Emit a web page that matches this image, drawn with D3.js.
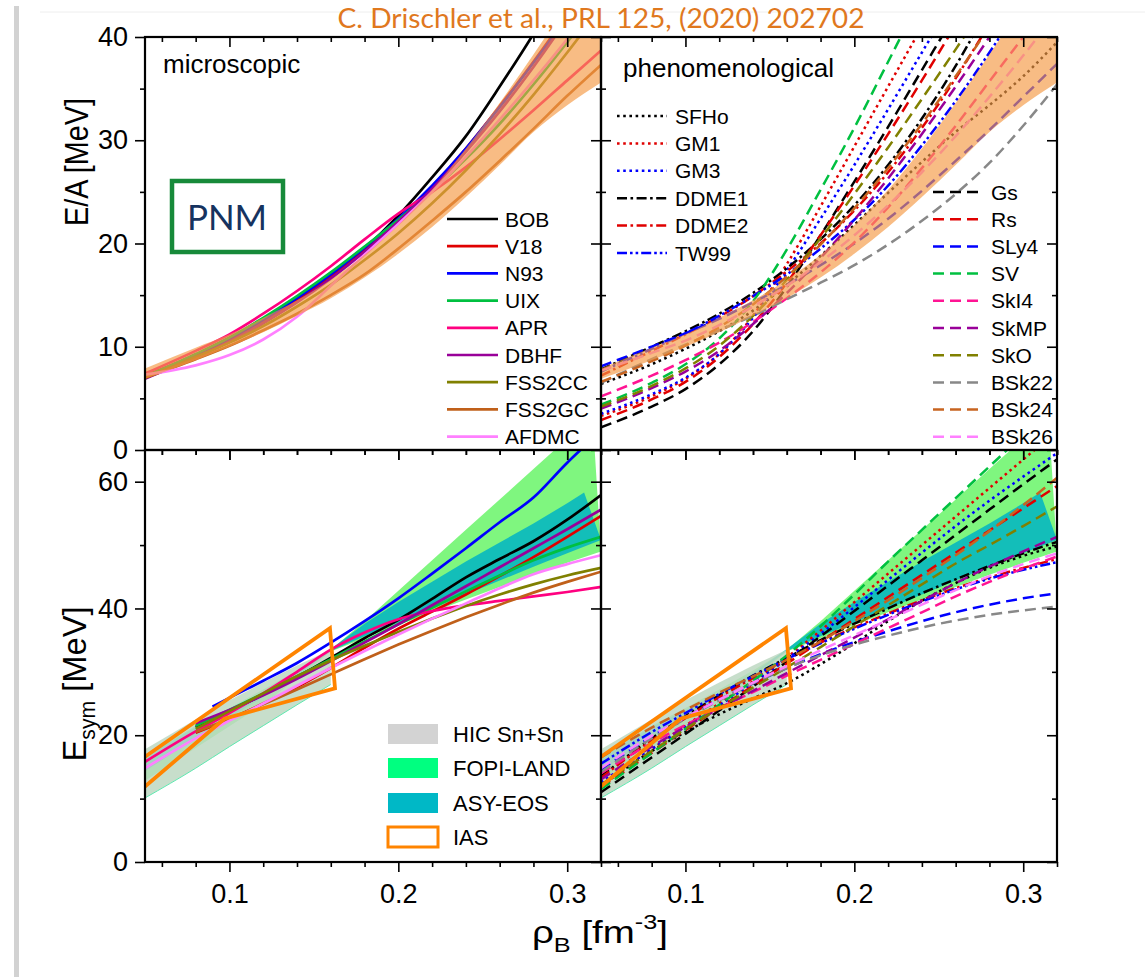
<!DOCTYPE html>
<html>
<head>
<meta charset="utf-8">
<script src="https://cdn.jsdelivr.net/npm/d3@7"></script>
<style>
  body { margin: 0; background: #fff; }
  svg { display: block; font-family: "Liberation Sans", Arial, sans-serif; }
</style>
</head>
<body>
<svg id="chart" width="1145" height="977"></svg>
<script>
// density grid shared by the curves [fm^-3]
const rho = [0.05, 0.08, 0.10, 0.12, 0.14, 0.16, 0.18, 0.20, 0.22, 0.24, 0.26, 0.28, 0.30, 0.32];

// ---- pure neutron matter E/A [MeV], microscopic
const BOB_EA    = [7.0, 9.0, 10.5, 12.3, 14.4, 16.8, 19.5, 22.7, 26.4, 30.4, 35.2, 40.3, 46.0, 52.0];
const V18_EA    = [7.2, 9.2, 10.7, 12.5, 14.5, 16.8, 19.3, 22.2, 25.5, 29.2, 33.3, 37.6, 42.2, 47.0];
const N93_EA    = [7.0, 9.2, 10.8, 12.6, 14.7, 17.0, 19.6, 22.4, 25.6, 29.2, 33.2, 37.5, 42.0, 47.0];
const UIX_EA    = [7.1, 9.3, 10.9, 12.8, 14.9, 17.2, 19.7, 22.3, 25.1, 28.2, 31.6, 35.4, 39.5, 43.8];
const APR_EA    = [7.4, 9.6, 11.2, 13.2, 15.4, 17.8, 20.4, 22.9, 25.0, 27.4, 30.1, 32.9, 35.8, 38.7];
const DBHF_EA   = [6.9, 9.0, 10.5, 12.3, 14.3, 16.6, 19.2, 22.1, 25.3, 28.9, 32.8, 37.1, 41.8, 47.0];
const FSS2CC_EA = [7.0, 9.0, 10.4, 12.0, 13.9, 16.0, 18.4, 21.0, 23.9, 27.1, 30.6, 34.4, 38.5, 42.8];
const FSS2GC_EA = [7.0, 8.8, 10.1, 11.6, 13.2, 15.0, 17.0, 19.5, 22.2, 25.0, 28.0, 31.1, 34.3, 37.3];
const AFDMC_EA  = [7.3, 8.2, 9.2, 10.7, 12.9, 15.9, 18.9, 21.9, 25.0, 28.4, 32.0, 35.8, 39.8, 44.0];

// ---- pure neutron matter E/A [MeV], phenomenological
const SFHo_EA  = [6.4, 8.3, 9.8, 11.5, 13.5, 16.0, 18.8, 21.8, 24.9, 27.9, 30.8, 33.4, 36.2, 39.5];
const GM1_EA   = [3.3, 5.2, 6.9, 9.3, 13.0, 18.0, 23.6, 29.4, 35.2, 41.0, 47.0, 53.0, 59.0, 65.0];
const GM3_EA   = [3.5, 5.4, 7.0, 9.3, 12.8, 17.4, 22.4, 27.6, 33.0, 38.5, 44.0, 50.0, 56.0, 62.0];
const DDME1_EA = [7.8, 10.0, 11.5, 13.2, 15.2, 17.6, 20.4, 23.7, 27.6, 32.1, 37.2, 43.0, 49.0, 55.0];
const DDME2_EA = [7.2, 9.6, 11.2, 12.9, 14.9, 17.3, 20.0, 23.2, 26.9, 31.2, 36.0, 41.3, 47.0, 53.0];
const TW99_EA  = [7.6, 9.8, 11.3, 13.0, 14.9, 17.0, 19.5, 22.3, 25.6, 29.5, 33.8, 38.5, 43.6, 49.0];
const Gs_EA    = [2.2, 4.2, 5.9, 8.3, 11.5, 15.8, 20.8, 26.0, 31.3, 36.8, 42.3, 48.0, 54.0, 60.0];
const Rs_EA    = [2.9, 4.9, 6.6, 9.0, 12.2, 16.2, 20.8, 25.6, 30.6, 35.8, 41.2, 47.0, 53.0, 59.0];
const SLy4_EA  = [8.1, 10.0, 11.3, 12.7, 14.3, 16.0, 17.9, 20.0, 22.4, 25.1, 28.0, 31.0, 34.2, 37.4];
const SV_EA    = [4.4, 6.5, 8.3, 10.8, 14.4, 19.4, 25.2, 31.2, 37.6, 44.0, 50.0, 56.0, 62.0, 68.0];
const SkI4_EA  = [5.2, 7.2, 8.7, 10.4, 12.4, 14.7, 17.2, 20.1, 23.5, 27.3, 31.4, 35.7, 40.0, 44.3];
const SkMP_EA  = [4.0, 6.0, 7.6, 9.6, 12.2, 15.2, 18.6, 22.3, 26.3, 30.6, 35.2, 40.0, 45.0, 50.0];
const SkO_EA   = [4.2, 6.2, 7.9, 10.1, 13.0, 16.5, 20.5, 24.8, 29.3, 34.0, 38.8, 43.8, 49.0, 54.0];
const BSk22_EA = [6.5, 8.8, 10.2, 11.6, 13.0, 14.6, 16.2, 17.9, 19.9, 22.2, 24.8, 27.8, 31.4, 35.4];
const BSk24_EA = [6.6, 8.6, 10.1, 11.9, 14.1, 16.8, 19.9, 23.4, 27.3, 31.6, 36.2, 41.0, 46.0, 51.0];
const BSk26_EA = [7.7, 9.4, 10.6, 12.1, 13.9, 15.9, 18.2, 20.8, 23.7, 26.9, 30.4, 34.2, 38.2, 42.4];

// chiral EFT band (orange)
const BAND_LO = [6.9, 8.7, 10.0, 11.4, 13.0, 14.7, 16.7, 19.0, 21.6, 24.5, 27.6, 30.8, 33.4, 35.6];
const BAND_HI = [7.9, 9.9, 11.2, 12.8, 14.5, 16.5, 18.9, 21.8, 25.2, 29.2, 33.6, 38.3, 43.2, 48.0];

// ---- symmetry energy [MeV], microscopic (null = not computed)
const BOB_ES    = [null, 21.3, 23.8, 26.4, 29.2, 32.2, 35.3, 38.2, 41.5, 44.9, 47.8, 50.6, 54.0, 57.9];
const V18_ES    = [null, 20.4, 22.5, 25.0, 27.6, 30.6, 33.8, 36.8, 39.5, 42.2, 45.1, 48.1, 51.3, 54.6];
const N93_RHO   = [0.09, 0.10, 0.12, 0.14, 0.16, 0.18, 0.20, 0.22, 0.24, 0.26, 0.28, 0.30, 0.32];
const N93_ES    = [24.5, 25.9, 28.6, 31.4, 34.6, 38.0, 41.6, 45.5, 49.5, 53.6, 57.5, 63.0, 68.0];
const UIX_ES    = [null, 21.5, 24.0, 26.6, 29.3, 32.0, 34.8, 37.5, 40.1, 42.7, 45.2, 47.6, 49.6, 51.3];
const APR_ES    = [15.8, 20.6, 23.5, 26.6, 30.0, 33.5, 36.2, 38.3, 39.6, 40.5, 41.2, 41.9, 42.6, 43.4];
const DBHF_ES   = [null, 21.9, 24.0, 26.3, 28.9, 31.7, 34.6, 37.5, 40.5, 43.5, 46.5, 49.5, 52.5, 55.6];
const FSS2CC_ES = [null, 21.0, 23.8, 26.6, 29.3, 31.8, 34.1, 36.3, 38.4, 40.4, 42.2, 43.8, 45.2, 46.4];
const FSS2GC_ES = [null, 20.5, 22.6, 24.9, 27.2, 29.6, 32.0, 34.3, 36.5, 38.6, 40.6, 42.5, 44.2, 45.8];
const AFDMC_ES  = [14.8, 19.5, 22.3, 25.0, 27.8, 30.6, 33.3, 35.9, 38.4, 40.8, 43.2, 45.4, 47.0, 48.4];

// ---- symmetry energy [MeV], phenomenological
const SFHo_ES  = [12.0, 17.5, 20.5, 23.3, 25.8, 28.2, 31.2, 34.5, 38.0, 41.2, 44.0, 46.4, 48.3, 49.8];
const GM1_ES   = [12.5, 17.8, 21.5, 25.0, 28.5, 32.3, 36.5, 41.0, 45.5, 50.0, 54.5, 59.0, 63.5, 68.0];
const GM3_ES   = [12.6, 17.8, 21.3, 24.7, 28.2, 32.0, 36.0, 40.2, 44.5, 48.8, 53.0, 57.0, 60.8, 64.5];
const DDME1_ES = [13.5, 19.5, 23.0, 26.3, 29.4, 32.2, 35.0, 37.6, 40.0, 42.4, 44.6, 46.7, 48.7, 50.5];
const DDME2_ES = [13.3, 19.2, 22.7, 26.0, 29.0, 31.9, 34.6, 37.0, 39.2, 41.3, 43.2, 44.9, 46.4, 47.8];
const TW99_ES  = [15.5, 20.5, 23.5, 26.5, 29.3, 32.0, 34.5, 36.8, 39.0, 41.1, 43.0, 44.7, 46.1, 47.3];
const Gs_ES    = [11.0, 16.5, 20.2, 23.9, 27.7, 31.6, 35.6, 39.6, 43.6, 47.6, 51.6, 55.6, 59.6, 63.5];
const Rs_ES    = [11.8, 17.2, 20.8, 24.3, 27.8, 31.3, 34.8, 38.3, 41.8, 45.3, 48.8, 52.3, 55.8, 59.3];
const SLy4_ES  = [14.5, 19.8, 22.8, 25.6, 28.2, 30.6, 32.8, 34.7, 36.4, 38.0, 39.4, 40.6, 41.6, 42.4];
const SV_ES    = [11.5, 17.2, 21.0, 24.8, 28.6, 32.6, 37.2, 42.2, 47.4, 52.4, 57.4, 62.4, 67.4, 72.4];
const SkI4_ES  = [14.0, 18.8, 21.6, 24.3, 26.8, 29.4, 31.9, 34.4, 36.9, 39.4, 41.9, 44.2, 46.3, 48.2];
const SkMP_ES  = [13.0, 18.2, 21.3, 24.2, 27.0, 29.8, 32.6, 35.4, 38.3, 41.2, 44.0, 46.6, 49.0, 51.3];
const SkO_ES   = [12.2, 17.5, 21.0, 24.3, 27.5, 30.7, 33.9, 37.2, 40.5, 43.8, 47.1, 50.0, 53.0, 56.1];
const BSk22_ES = [14.2, 19.5, 22.6, 25.5, 28.2, 30.6, 32.6, 34.3, 35.7, 37.0, 38.1, 39.0, 39.7, 40.3];
const BSk24_ES = [16.5, 21.2, 24.0, 26.7, 29.3, 31.9, 34.8, 38.0, 41.3, 44.8, 48.4, 52.2, 56.3, 60.6];
const BSk26_ES = [14.8, 19.9, 22.8, 25.6, 28.3, 30.9, 33.4, 35.8, 38.2, 40.6, 42.9, 45.1, 47.0, 48.7];

// ---- experimental constraints on E_sym
const HIC_RHO = [0.05, 0.08, 0.10, 0.12, 0.14, 0.16];
const HIC_HI  = [17.8, 22.5, 25.5, 28.3, 31.0, 33.5];
const HIC_LO  = [10.1, 14.8, 18.2, 21.5, 24.8, 28.0];

const FOPI_RHO_HI = [0.05, 0.08, 0.10, 0.12, 0.14, 0.16, 0.18, 0.20, 0.22, 0.24, 0.26, 0.28, 0.30, 0.315];
const FOPI_HI     = [16.8, 21.5, 24.3, 27.2, 30.2, 33.5, 38.0, 42.8, 47.6, 52.4, 57.2, 62.0, 66.8, 70.4];
const FOPI_LO     = [12.8, 18.0, 21.4, 24.9, 28.9, 33.2, 35.3, 37.4, 39.4, 41.4, 43.4, 45.3, 47.2, 49.0];

const ASY_RHO_HI = [0.05, 0.08, 0.10, 0.12, 0.14, 0.16, 0.18, 0.20, 0.22, 0.24, 0.26, 0.28, 0.30, 0.31];
const ASY_HI     = [16.6, 21.3, 24.0, 26.8, 29.8, 33.6, 37.6, 41.0, 44.2, 47.4, 50.4, 53.4, 56.6, 58.3];
const ASY_LO     = [14.3, 19.6, 22.8, 26.0, 29.4, 33.3, 35.6, 37.8, 40.0, 42.2, 44.4, 46.6, 48.7, 50.8];

const IAS_RHO = [0.05, 0.097, 0.1625, 0.1595, 0.05];
const IAS_ES  = [11.9, 22.6, 27.4, 36.9, 16.6];

// ---- model tables (name, data, style)
const micro = [
  {name: "BOB",    ea: BOB_EA,    es: BOB_ES,    color: "#000000"},
  {name: "V18",    ea: V18_EA,    es: V18_ES,    color: "#e00000"},
  {name: "N93",    ea: N93_EA,    es: N93_ES,    color: "#0000ff", esRho: N93_RHO},
  {name: "UIX",    ea: UIX_EA,    es: UIX_ES,    color: "#00c040"},
  {name: "APR",    ea: APR_EA,    es: APR_ES,    color: "#ff0080"},
  {name: "DBHF",   ea: DBHF_EA,   es: DBHF_ES,   color: "#990099"},
  {name: "FSS2CC", ea: FSS2CC_EA, es: FSS2CC_ES, color: "#808000"},
  {name: "FSS2GC", ea: FSS2GC_EA, es: FSS2GC_ES, color: "#c0601a"},
  {name: "AFDMC",  ea: AFDMC_EA,  es: AFDMC_ES,  color: "#ff80ff"}
];

const DOT = "2.6,3.6", DASH = "11,6", DASHDOT = "10,3.5,2.6,3.5", DASHDOTDOT = "10,3,2.6,3,2.6,3";
const pheno = [
  {name: "SFHo",  ea: SFHo_EA,  es: SFHo_ES,  color: "#000000", dash: DOT},
  {name: "GM1",   ea: GM1_EA,   es: GM1_ES,   color: "#e00000", dash: DOT},
  {name: "GM3",   ea: GM3_EA,   es: GM3_ES,   color: "#0000ff", dash: DOT},
  {name: "DDME1", ea: DDME1_EA, es: DDME1_ES, color: "#000000", dash: DASHDOT},
  {name: "DDME2", ea: DDME2_EA, es: DDME2_ES, color: "#e00000", dash: DASHDOT},
  {name: "TW99",  ea: TW99_EA,  es: TW99_ES,  color: "#0000ff", dash: DASHDOTDOT},
  {name: "Gs",    ea: Gs_EA,    es: Gs_ES,    color: "#000000", dash: DASH},
  {name: "Rs",    ea: Rs_EA,    es: Rs_ES,    color: "#e00000", dash: DASH},
  {name: "SLy4",  ea: SLy4_EA,  es: SLy4_ES,  color: "#0000ff", dash: DASH},
  {name: "SV",    ea: SV_EA,    es: SV_ES,    color: "#00c040", dash: DASH},
  {name: "SkI4",  ea: SkI4_EA,  es: SkI4_ES,  color: "#ff1493", dash: DASH},
  {name: "SkMP",  ea: SkMP_EA,  es: SkMP_ES,  color: "#990099", dash: DASH},
  {name: "SkO",   ea: SkO_EA,   es: SkO_ES,   color: "#808000", dash: DASH},
  {name: "BSk22", ea: BSk22_EA, es: BSk22_ES, color: "#888888", dash: DASH},
  {name: "BSk24", ea: BSk24_EA, es: BSk24_ES, color: "#c86420", dash: DASH},
  {name: "BSk26", ea: BSk26_EA, es: BSk26_ES, color: "#ff80ff", dash: DASH}
];

//Layout
const PW = 456, PH_TOP = 413, PH_BOT = 412;
const colX = [145, 601], rowY = [37, 450];

const x = d3.scaleLinear().domain([0.05, 0.32]).range([0, PW]);
const yTop = d3.scaleLinear().domain([0, 40]).range([PH_TOP, 0]);
const yBot = d3.scaleLinear().domain([0, 65]).range([PH_BOT, 0]);

const svg = d3.select("#chart");

// slide frame look
svg.append("rect").attr("x", 0).attr("y", 0).attr("width", 1145).attr("height", 977).attr("fill", "#fff");
svg.append("rect").attr("x", 14).attr("y", 6).attr("width", 5).attr("height", 971).attr("fill", "#d2d2d2");
svg.append("line").attr("x1", 40).attr("x2", 1145).attr("y1", 12).attr("y2", 12)
  .attr("stroke", "#eeeeee").attr("stroke-width", 1);

const defs = svg.append("defs");
defs.append("clipPath").attr("id", "clip-top").append("rect").attr("width", PW).attr("height", PH_TOP);
defs.append("clipPath").attr("id", "clip-bot").append("rect").attr("width", PW).attr("height", PH_BOT);

const zip = (xs, ys) => xs.map((r, i) => [r, ys[i]]);

const lineGen = y => d3.line()
  .defined(d => d[1] != null)
  .x(d => x(d[0]))
  .y(d => y(d[1]))
  .curve(d3.curveMonotoneX);

const polyGen = y => d3.line().x(d => x(d[0])).y(d => y(d[1])).curve(d3.curveLinearClosed);

const panel = (c, r) => {
  const g = svg.append("g").attr("transform", `translate(${colX[c]},${rowY[r]})`);
  const plot = g.append("g").attr("clip-path", r === 0 ? "url(#clip-top)" : "url(#clip-bot)");
  return {g, plot};
};

const pTL = panel(0, 0), pTR = panel(1, 0), pBL = panel(0, 1), pBR = panel(1, 1);

// ---------- top panels: E/A of PNM
micro.forEach(m => {
  pTL.plot.append("path")
    .attr("d", lineGen(yTop)(zip(rho, m.ea)))
    .attr("fill", "none").attr("stroke", m.color).attr("stroke-width", 2.7);
});
pheno.forEach(m => {
  pTR.plot.append("path")
    .attr("d", lineGen(yTop)(zip(rho, m.ea)))
    .attr("fill", "none").attr("stroke", m.color).attr("stroke-width", 2.5)
    .attr("stroke-dasharray", m.dash);
});

// band drawn over the curves, semi-transparent
const bandArea = d3.area()
  .x((d, i) => x(rho[i]))
  .y0(d => yTop(d[0])).y1(d => yTop(d[1]))
  .curve(d3.curveMonotoneX);
const bandData = BAND_LO.map((lo, i) => [lo, BAND_HI[i]]);
[pTL, pTR].forEach(p => {
  p.plot.append("path").attr("d", bandArea(bandData))
    .attr("fill", "#f59a45").attr("fill-opacity", 0.66);
});

// ---------- bottom panels: E_sym
const bandPoly = (rhoHi, hi, rhoLo, lo) =>
  zip(rhoHi, hi).concat(zip(rhoLo, lo).reverse());

[pBL, pBR].forEach(p => {
  p.plot.append("path")
    .attr("d", polyGen(yBot)(bandPoly(FOPI_RHO_HI, FOPI_HI, rho, FOPI_LO)))
    .attr("fill", "#00ee00").attr("fill-opacity", 0.5);
  p.plot.append("path")
    .attr("d", polyGen(yBot)(bandPoly(ASY_RHO_HI, ASY_HI, rho, ASY_LO)))
    .attr("fill", "#00b4c3").attr("fill-opacity", 0.85);
  p.plot.append("path")
    .attr("d", polyGen(yBot)(bandPoly(HIC_RHO, HIC_HI, HIC_RHO, HIC_LO)))
    .attr("fill", "#bdd8c2").attr("fill-opacity", 0.85);
  p.plot.append("path")
    .attr("d", d3.line().x(d => x(d[0])).y(d => yBot(d[1])).curve(d3.curveMonotoneX)(zip(HIC_RHO, HIC_LO)))
    .attr("fill", "none").attr("stroke", "#5ee8b0").attr("stroke-width", 1);
});

micro.forEach(m => {
  pBL.plot.append("path")
    .attr("d", lineGen(yBot)(zip(m.esRho || rho, m.es)))
    .attr("fill", "none").attr("stroke", m.color).attr("stroke-width", 2.7);
});
pheno.forEach(m => {
  pBR.plot.append("path")
    .attr("d", lineGen(yBot)(zip(rho, m.es)))
    .attr("fill", "none").attr("stroke", m.color).attr("stroke-width", 2.5)
    .attr("stroke-dasharray", m.dash);
});

[pBL, pBR].forEach(p => {
  p.plot.append("path")
    .attr("d", d3.line().x(d => x(d[0])).y(d => yBot(d[1]))(zip(IAS_RHO, IAS_ES)))
    .attr("fill", "none").attr("stroke", "#ff8400").attr("stroke-width", 3.8)
    .attr("stroke-linejoin", "miter");
});

// ---------- axes / ticks
const xMajor = [0.1, 0.2, 0.3];
const xMinor = [0.06, 0.08, 0.12, 0.14, 0.16, 0.18, 0.22, 0.24, 0.26, 0.28, 0.32];
const yTopMajor = [0, 10, 20, 30, 40], yTopMinor = [5, 15, 25, 35];
const yBotMajor = [0, 20, 40, 60], yBotMinor = [10, 30, 50];

const tickStyle = g => {
  g.select(".domain").remove();
  g.selectAll(".tick line").attr("stroke", "#000").attr("stroke-width", 1.6);
};

const addTicks = (g, axisFn, scale, major, minor, len, labels) => {
  g.append("g").call(axisFn(scale).tickValues(major).tickSize(len).tickSizeOuter(0)
      .tickFormat(labels ? (d => d3.format("")(d)) : ""))
    .call(tickStyle);
  g.append("g").call(axisFn(scale).tickValues(minor).tickSize(len > 0 ? 5 : -5).tickFormat(""))
    .call(tickStyle);
};

[[pTL, 0], [pTR, 1], [pBL, 0], [pBR, 1]].forEach(([p, c], idx) => {
  const isTop = idx < 2;
  const y = isTop ? yTop : yBot;
  const h = isTop ? PH_TOP : PH_BOT;
  const yMaj = isTop ? yTopMajor : yBotMajor;
  const yMin = isTop ? yTopMinor : yBotMinor;

  // top edge: inward
  addTicks(p.g.append("g"), d3.axisTop, x, xMajor, xMinor, -10, false);
  // bottom edge: downward
  const gb = p.g.append("g").attr("transform", `translate(0,${h})`);
  addTicks(gb, d3.axisBottom, x, xMajor, xMinor, 10, !isTop);
  // left edge
  if (c === 0) addTicks(p.g.append("g"), d3.axisLeft, y, yMaj, yMin, 10, true);
  else addTicks(p.g.append("g"), d3.axisRight, y, yMaj, yMin, 10, false);
  // right edge: inward
  addTicks(p.g.append("g").attr("transform", `translate(${PW},0)`), d3.axisRight, y, yMaj, yMin, -10, false);

  p.g.append("rect").attr("width", PW).attr("height", h)
    .attr("fill", "none").attr("stroke", "#000").attr("stroke-width", 2.2);
});

svg.selectAll(".tick text").attr("font-family", "'Liberation Sans', Arial, sans-serif")
  .attr("font-size", 27).attr("fill", "#000");
// push x tick labels down, y tick labels left
svg.selectAll(".tick text").each(function () {
  const t = d3.select(this);
  if (t.attr("y") !== null && +t.attr("y") > 0) t.attr("y", 22);
  if (t.attr("x") !== null && +t.attr("x") < 0) t.attr("x", -17);
});

// ---------- legends
const legendTL = pTL.g.append("g");
micro.forEach((m, i) => {
  const yy = 219 - 37 + i * 27.2;
  legendTL.append("line").attr("x1", 302).attr("x2", 353).attr("y1", yy).attr("y2", yy)
    .attr("stroke", m.color).attr("stroke-width", 2.7);
  legendTL.append("text").attr("x", 360).attr("y", yy + 7.5).attr("font-size", 21).text(m.name);
});

const legendTR = pTR.g.append("g");
pheno.forEach((m, i) => {
  const left = i < 6;
  const yy = left ? 116 - 37 + i * 27.4 : 192 - 37 + (i - 6) * 27.2;
  const x1 = left ? 16 : 332;
  legendTR.append("line").attr("x1", x1).attr("x2", x1 + 50).attr("y1", yy).attr("y2", yy)
    .attr("stroke", m.color).attr("stroke-width", 2.5).attr("stroke-dasharray", m.dash);
  legendTR.append("text").attr("x", x1 + 58).attr("y", yy + 7.5).attr("font-size", 21).text(m.name);
});

const expLegend = [
  {name: "HIC Sn+Sn", fill: "#d3d3d3"},
  {name: "FOPI-LAND", fill: "#00ff80"},
  {name: "ASY-EOS", fill: "#00b8c6"},
  {name: "IAS", stroke: "#ff8400"}
];
const legendBL = pBL.g.append("g");
expLegend.forEach((e, i) => {
  const yy = [734, 768, 803, 837][i] - 450;
  legendBL.append("rect").attr("x", 243).attr("y", yy - 10).attr("width", 50).attr("height", 20)
    .attr("fill", e.fill || "none").attr("stroke", e.stroke || "none").attr("stroke-width", 3);
  legendBL.append("text").attr("x", 308).attr("y", yy + 8).attr("font-size", 22).text(e.name);
});

// ---------- panel annotations
pTL.g.append("text").attr("x", 18).attr("y", 36).attr("font-size", 26).text("microscopic");
pTR.g.append("text").attr("x", 22).attr("y", 40).attr("font-size", 26).text("phenomenological");

svg.append("rect").attr("x", 172).attr("y", 181).attr("width", 111).attr("height", 71)
  .attr("fill", "none").attr("stroke", "#178a3a").attr("stroke-width", 4.5);
svg.append("text").attr("x", 227).attr("y", 230).attr("text-anchor", "middle")
  .attr("font-family", "Lato, 'Open Sans', sans-serif").attr("font-size", 35)
  .attr("fill", "#16335f").text("PNM");

// ---------- titles
svg.append("text").attr("x", 601).attr("y", 28).attr("text-anchor", "middle")
  .attr("font-family", "Lato, 'Open Sans', sans-serif").attr("font-size", 27)
  .attr("textLength", 527).attr("lengthAdjust", "spacingAndGlyphs")
  .attr("fill", "#e0781e").text("C. Drischler et al., PRL 125, (2020) 202702");

svg.append("text").attr("transform", "translate(88,162) rotate(-90)")
  .attr("text-anchor", "middle").attr("font-size", 34)
  .attr("textLength", 128).attr("lengthAdjust", "spacingAndGlyphs")
  .text("E/A [MeV]");

const esymT = svg.append("text").attr("transform", "translate(86,684) rotate(-90)")
  .attr("text-anchor", "middle").attr("font-size", 34)
  .attr("textLength", 155).attr("lengthAdjust", "spacingAndGlyphs");
esymT.append("tspan").text("E");
esymT.append("tspan").attr("font-size", 22).attr("dy", 9).text("sym");
esymT.append("tspan").attr("dy", -9).text(" [MeV]");

const xT = svg.append("text").attr("x", 600).attr("y", 943).attr("text-anchor", "middle")
  .attr("font-size", 32).attr("textLength", 136).attr("lengthAdjust", "spacingAndGlyphs");
xT.append("tspan").text("ρ");
xT.append("tspan").attr("font-size", 21).attr("dy", 9).text("B");
xT.append("tspan").attr("dy", -9).text(" [fm");
xT.append("tspan").attr("font-size", 21).attr("dy", -14).text("-3");
xT.append("tspan").attr("dy", 14).text("]");
</script>
</body>
</html>
